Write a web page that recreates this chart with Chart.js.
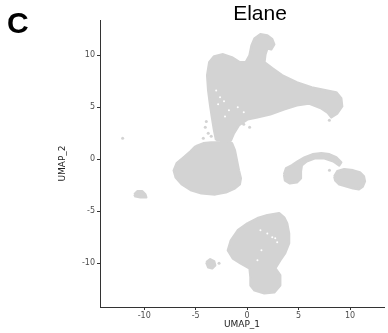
<!DOCTYPE html>
<html>
<head>
<meta charset="utf-8">
<script src="https://cdn.jsdelivr.net/npm/chart.js@4/dist/chart.umd.min.js"></script>
<style>
  html, body { margin: 0; padding: 0; background: #fff; }
  canvas { display: block; }
</style>
</head>
<body>
<canvas id="umap" width="388" height="333"></canvas>
<script>
// ── Data (UMAP coordinates) ────────────────────────────────────────────────
const X_TICKS = [-10, -5, 0, 5, 10];
const Y_TICKS = [-10, -5, 0, 5, 10];

// cluster outlines, [UMAP_1, UMAP_2]
const CLUSTER_TOP = [
  [-3.01, 1.83], [-3.21, 2.79], [-3.40, 3.94], [-3.59, 5.19], [-3.78, 6.63],
  [-3.88, 8.08], [-3.68, 9.33], [-3.21, 9.90], [-2.34, 10.10], [-1.48, 9.81],
  [-0.72, 9.33], [-0.14, 9.33], [0.24, 10.00], [0.43, 10.96], [0.72, 11.63],
  [1.29, 12.02], [1.96, 11.92], [2.44, 11.54], [2.63, 11.06], [2.34, 10.58],
  [1.96, 10.67], [1.77, 10.10], [1.67, 9.33], [2.44, 8.75], [3.40, 8.08],
  [4.83, 7.40], [6.27, 6.92], [7.70, 6.63], [8.66, 6.44], [9.14, 5.87],
  [9.23, 5.10], [8.76, 4.42], [8.18, 4.04], [7.80, 4.52], [7.22, 4.90],
  [5.98, 5.38], [4.83, 5.19], [3.59, 4.81], [2.25, 4.33], [1.00, 4.04],
  [0.05, 3.85], [-0.81, 3.27], [-1.29, 2.50], [-1.58, 1.83]
];
const CLUSTER_LEFT = [
  [-5.02, 1.25], [-4.26, 1.54], [-3.49, 1.63], [-2.63, 1.63], [-1.96, 1.83],
  [-1.48, 1.54], [-1.20, 0.87], [-1.00, -0.10], [-0.81, -1.06], [-0.62, -1.83],
  [-0.72, -2.40], [-1.20, -2.79], [-2.06, -3.17], [-3.11, -3.37], [-4.45, -3.27],
  [-5.41, -2.98], [-6.36, -2.40], [-6.94, -1.73], [-7.13, -1.06], [-6.84, -0.38],
  [-6.17, 0.19], [-5.50, 0.77]
];
const CLUSTER_ARC = [
  [3.59, -1.44], [3.78, -0.87], [4.35, -0.58], [4.93, -0.19], [5.60, 0.19],
  [6.36, 0.48], [7.22, 0.58], [7.99, 0.48], [8.66, 0.19], [9.14, -0.29],
  [8.95, -0.58], [8.37, -0.19], [7.51, 0.10], [6.56, 0.10], [5.79, -0.19],
  [5.31, -0.58], [5.22, -1.15], [5.22, -1.83], [4.83, -2.21], [4.16, -2.31],
  [3.68, -2.02]
];
const CLUSTER_RIGHT = [
  [8.47, -1.63], [8.76, -1.15], [9.43, -0.96], [10.29, -1.06], [10.96, -1.25],
  [11.34, -1.63], [11.44, -2.12], [11.24, -2.60], [10.86, -2.88], [10.29, -2.79],
  [9.62, -2.60], [8.95, -2.40], [8.56, -2.02]
];
const CLUSTER_BOTTOM = [
  [0.05, -6.15], [-0.91, -6.83], [-1.58, -7.79], [-1.87, -8.75], [-1.39, -9.52],
  [-0.62, -10.00], [0.24, -10.48], [0.33, -11.35], [0.33, -12.12], [0.72, -12.60],
  [1.67, -12.88], [2.63, -12.79], [3.21, -12.12], [3.21, -11.15], [2.73, -10.48],
  [3.21, -9.71], [3.68, -9.04], [4.07, -8.08], [4.07, -7.12], [3.88, -6.15],
  [3.59, -5.58], [3.11, -5.19], [1.96, -5.38], [1.00, -5.67]
];
const CLUSTER_SMALL_B = [
  [-3.97, -9.90], [-3.59, -9.62], [-3.21, -9.81], [-3.11, -10.19], [-3.40, -10.48], [-3.78, -10.38]
];
const CLUSTER_SMALL_L = [
  [-10.96, -3.37], [-10.67, -3.08], [-10.19, -3.08], [-9.90, -3.37], [-9.81, -3.65],
  [-10.38, -3.65], [-10.86, -3.56]
];
// loose cells outside the outlines
const STRAY_CELLS = [
  [-12.10, 2.02], [-2.73, -10.00], [-4.07, 3.08], [-3.78, 2.50], [-4.26, 2.02],
  [-3.49, 2.21], [-3.97, 3.65], [-0.33, 3.37], [0.24, 3.08], [7.99, 3.75], [8.0, -1.06]
];
// empty spots inside the clusters
const GAPS = [
  [-3.01, 6.63], [-2.63, 5.96], [-2.82, 5.29], [-2.25, 5.58], [-1.77, 4.71],
  [-0.91, 5.00], [-0.33, 4.52], [-2.15, 4.13],
  [2.92, -7.98], [2.73, -7.60], [1.96, -7.12], [1.29, -6.83], [2.44, -7.50],
  [1.00, -9.71], [1.39, -8.75]
];

const CELL_GREY = '#d3d3d3';
const toXY = pts => pts.map(([x, y]) => ({ x, y }));
const closed = pts => toXY(pts.concat([pts[0]]));

function clusterSet(pts) {
  return {
    data: closed(pts),
    borderColor: CELL_GREY,
    backgroundColor: CELL_GREY,
    borderWidth: 2.5,
    borderJoinStyle: 'round',
    pointRadius: 0,
    tension: 0,
    fill: 'shape',
    order: 2,
  };
}

// ── text that sits outside the plot area ──────────────────────────────────
const labelsPlugin = {
  id: 'panelLabels',
  afterDraw(chart) {
    const ctx = chart.ctx;
    ctx.save();
    ctx.fillStyle = '#000';
    ctx.textBaseline = 'alphabetic';
    ctx.font = "bold 30px 'Liberation Sans', Arial, sans-serif";
    ctx.textAlign = 'left';
    ctx.fillText('C', 7, 33);
    ctx.font = "21px 'Liberation Sans', Arial, sans-serif";
    ctx.textAlign = 'center';
    ctx.fillText('Elane', 260, 20);
    ctx.restore();
  },
};

const axisCommon = {
  type: 'linear',
  grid: { display: true, drawOnChartArea: false, drawTicks: true, tickLength: 3, color: '#333' },
  border: { display: true, color: '#333', width: 1 },
  ticks: { color: '#4d4d4d', font: { family: "'DejaVu Sans', sans-serif", size: 8 } },
};

new Chart(document.getElementById('umap'), {
  type: 'line',
  data: {
    datasets: [
      { data: toXY(GAPS), showLine: false, pointRadius: 1, pointBorderWidth: 0,
        pointBackgroundColor: '#ffffff', order: 0 },
      { data: toXY(STRAY_CELLS), showLine: false, pointRadius: 1.5, pointBorderWidth: 0,
        pointBackgroundColor: CELL_GREY, order: 1 },
      clusterSet(CLUSTER_TOP),
      clusterSet(CLUSTER_LEFT),
      clusterSet(CLUSTER_ARC),
      clusterSet(CLUSTER_RIGHT),
      clusterSet(CLUSTER_BOTTOM),
      clusterSet(CLUSTER_SMALL_B),
      clusterSet(CLUSTER_SMALL_L),
    ],
  },
  options: {
    responsive: false,
    animation: false,
    events: [],
    layout: { padding: { top: 20, left: 0, right: 0, bottom: 0 } },
    plugins: { legend: { display: false }, tooltip: { enabled: false } },
    scales: {
      x: {
        ...axisCommon,
        min: -14.3, max: 13.3,
        ticks: { ...axisCommon.ticks, padding: 1 },
        afterBuildTicks: s => { s.ticks = X_TICKS.map(v => ({ value: v })); },
        afterFit: s => { s.height = 26; },
        title: { display: true, text: 'UMAP_1', color: '#222',
                 font: { family: "'DejaVu Sans', sans-serif", size: 9 }, padding: { top: 0, bottom: 3 } },
      },
      y: {
        ...axisCommon,
        min: -14.2, max: 13.4,
        ticks: { ...axisCommon.ticks, padding: 2 },
        afterBuildTicks: s => { s.ticks = Y_TICKS.map(v => ({ value: v })); },
        afterFit: s => { s.width = 100; },
        title: { display: true, text: 'UMAP_2', color: '#222',
                 font: { family: "'DejaVu Sans', sans-serif", size: 9 }, padding: { top: 57, bottom: 0 } },
      },
    },
  },
  plugins: [labelsPlugin],
});
</script>
</body>
</html>
